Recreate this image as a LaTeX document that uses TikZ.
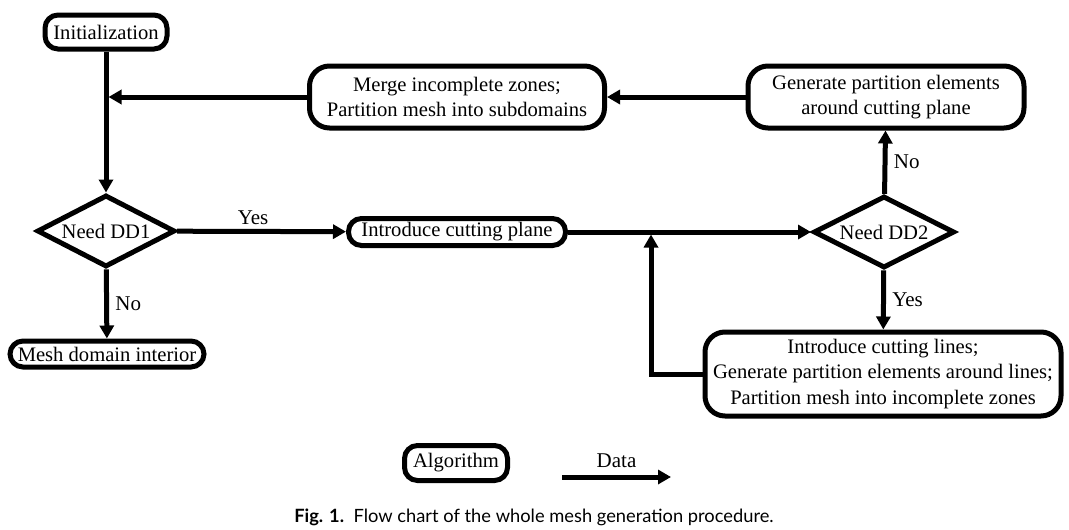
\documentclass[tikz,border=0pt]{standalone}
\usepackage{fontspec}
\setmainfont{Liberation Serif}
\newfontfamily\capfont{Lato}
\usetikzlibrary{shapes.geometric,arrows.meta}
\begin{document}
\begin{tikzpicture}[x=1pt,y=-1pt,
  every node/.style={font=\fontsize{20.6}{25.5}\selectfont},
  proc/.style={draw,line width=5pt,rounded corners=#1,fill=white,inner sep=0pt,align=center},
  proc/.default=13pt,
  decide/.style={draw,line width=5pt,diamond,aspect=1.9,inner sep=0pt,minimum width=138pt,minimum height=72pt},
  flow/.style={line width=5pt,-{Triangle[length=13pt,width=14pt]}},
  lbl/.style={font=\fontsize{21}{24}\selectfont}
]
\useasboundingbox (0,0) rectangle (1069,530);
\node[proc, minimum width=122pt, minimum height=34pt] (init) at (106,32) {Initialization};
\node[proc=20pt, minimum width=295pt, minimum height=62pt] (merge) at (457,97) {Merge incomplete zones;\\Partition mesh into subdomains};
\node[proc=20pt, minimum width=276pt, minimum height=62pt] (gen) at (886,97) {Generate partition elements\\around cutting plane};
\node[decide] (dd1) at (106,231) {Need DD1};
\node[proc, minimum width=217pt, minimum height=27pt] (plane) at (457,232) {Introduce cutting plane};
\node[decide, minimum width=141pt] (dd2) at (884,232) {Need DD2};
\node[proc=20pt, minimum width=356pt, minimum height=84pt] (lines) at (883,374) {Introduce cutting lines;\\Generate partition elements around lines;\\Partition mesh into incomplete zones};
\node[proc, minimum width=194pt, minimum height=26pt] (mesh) at (107,354) {Mesh domain interior};
\coordinate (j1) at (108.5,97);
\coordinate (j2) at (651,234.5);
\draw[flow] (init) -- (dd1);
\draw[flow] (merge) -- (j1);
\draw[flow] (gen) -- (merge);
\draw[flow] (dd1) -- node[lbl,above=1pt,pos=0.45]{Yes} (plane);
\draw[flow] (plane) -- (dd2);
\draw[flow] (dd2) -- node[lbl,right=3pt]{No} (gen);
\draw[flow] (dd2) -- node[lbl,right=3pt]{Yes} (lines);
\draw[flow] (lines.west) -| (j2);
\draw[flow] (dd1) -- node[lbl,right=3pt]{No} (mesh);
% legend
\node[proc, minimum width=103pt, minimum height=35pt] (alg) at (456,463) {Algorithm};
\coordinate (d1) at (562,477);
\coordinate (d2) at (671,477);
\draw[flow] (d1) -- node[lbl,above=3pt]{Data} (d2);
\node[font=\capfont\fontsize{18.3}{20}\selectfont] (cap) at (534,517) {{\bfseries Fig. 1.}\ \ Flow chart of the whole mesh generation procedure.};
\end{tikzpicture}
\end{document}
